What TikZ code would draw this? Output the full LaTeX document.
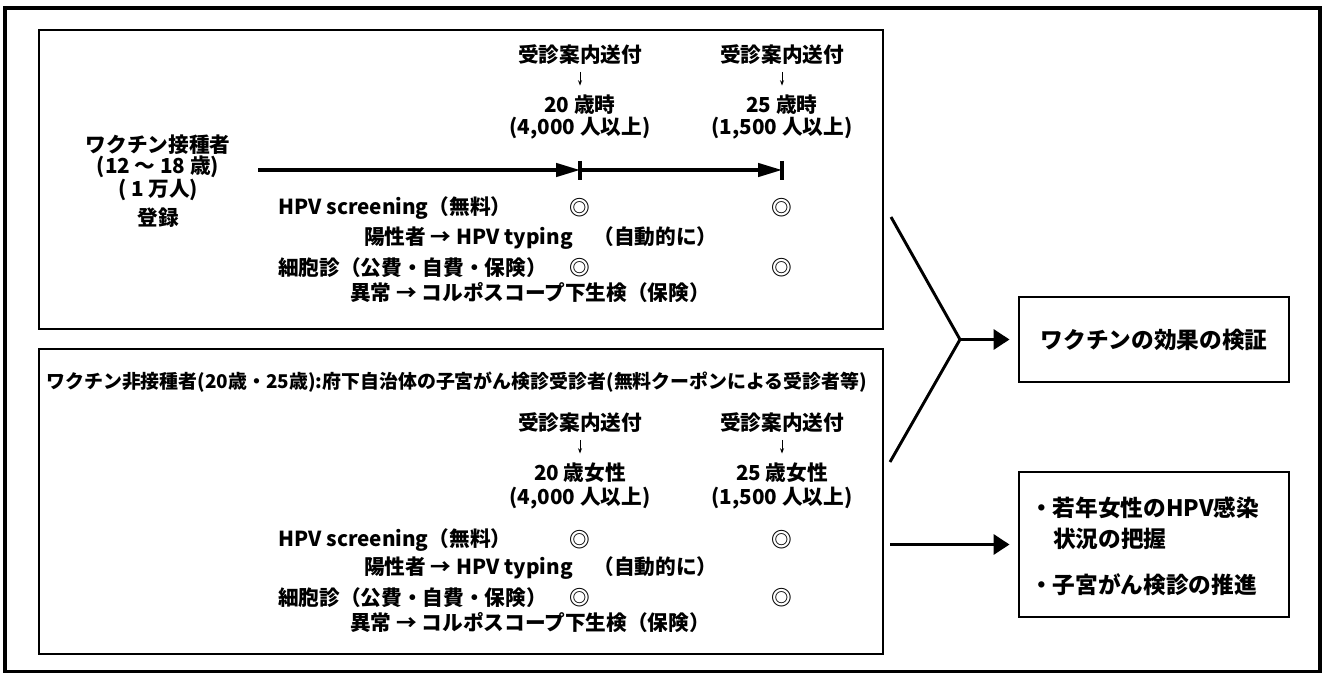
\documentclass[tikz,border=0pt]{standalone}
\usepackage{fontspec}
\newfontfamily\jp{Noto Sans CJK JP}
\usetikzlibrary{arrows.meta}
\begin{document}
\begin{tikzpicture}[x=0.75pt,y=-0.75pt,
  t/.style={inner sep=0pt, font=\jp\bfseries\fontsize{15.5}{18}\selectfont},
  tl/.style={t, anchor=west},
  hdr/.style={inner sep=0pt, anchor=west, font=\jp\bfseries\fontsize{14.2}{16}\selectfont},
  big/.style={inner sep=0pt, font=\jp\bfseries\fontsize{17}{21}\selectfont},
  frame/.style={draw, line width=1pt},
  resbox/.style={draw, line width=2.2pt, inner sep=0pt, minimum width=202.5pt},
  smallarrow/.style={line width=0.7pt, -{Stealth[length=4pt,width=3pt]}, shorten <=5pt, shorten >=7pt},
  timeline/.style={line width=2.6pt, -{Triangle[length=18pt,width=10pt]}},
  tickmark/.style={line width=2.4pt},
  fatarrow/.style={line width=2.6pt, -{Triangle[length=12pt,width=15pt]}, shorten >=6pt},
  bracket/.style={line width=2.2pt},
]
\useasboundingbox (0,0) rectangle (1323,673);
% outer frame
\draw[line width=2.6pt] (5,8) rectangle (1320,672);
% top box
\draw[frame] (39,30) rectangle (883,329);
% bottom box
\draw[frame] (39,349) rectangle (883,654);

% ---------- top box ----------
\node[t] (s1) at (580,55) {受診案内送付};
\node[t] (a20) at (580,105) {20 歳時};
\node[t] (n20) at (580,128) {(4,000 人以上)};
\draw[smallarrow] (s1) -- (a20);
\node[t] (s2) at (782,55) {受診案内送付};
\node[t] (a25) at (782,105) {25 歳時};
\node[t] (n25) at (782,128) {(1,500 人以上)};
\draw[smallarrow] (s2) -- (a25);

\node[t] (vac) at (158,145) {ワクチン接種者};
\node[t] (age) at (158,167) {(12 〜 18 歳)};
\node[t] (man) at (158,190) {( 1 万人)};
\node[t] (reg) at (158,218) {登録};

\coordinate (tl0) at (258,170);
\coordinate (tk1) at (580,170);
\coordinate (tk2) at (782,170);
\draw[timeline] (tl0) -- (tk1);
\draw[timeline] (tk1) -- (tk2);
\draw[tickmark] (580,161) -- (580,180);
\draw[tickmark] (782,161) -- (782,180);

\node[tl] (hpv1) at (278,208) {HPV screening（無料）};
\node[t] (c11) at (580,208) {◎};
\node[t] (c12) at (782,208) {◎};
\node[tl] (typ1) at (364,238) {陽性者 → HPV typing　（自動的に）};
\node[tl] (cyt1) at (278,268) {細胞診（公費・自費・保険）};
\node[t] (c13) at (580,268) {◎};
\node[t] (c14) at (782,268) {◎};
\node[tl] (abn1) at (350,293) {異常 → コルポスコープ下生検（保険）};

% ---------- bottom box ----------
\node[hdr] (hdr) at (46,382) {ワクチン非接種者(20歳・25歳):府下自治体の子宮がん検診受診者(無料クーポンによる受診者等)};
\node[t] (s3) at (580,423) {受診案内送付};
\node[t] (w20) at (580,473) {20 歳女性};
\node[t] (m20) at (580,498) {(4,000 人以上)};
\draw[smallarrow] (s3) -- (w20);
\node[t] (s4) at (782,423) {受診案内送付};
\node[t] (w25) at (782,473) {25 歳女性};
\node[t] (m25) at (782,498) {(1,500 人以上)};
\draw[smallarrow] (s4) -- (w25);

\node[tl] (hpv2) at (278,540) {HPV screening（無料）};
\node[t] (c21) at (580,540) {◎};
\node[t] (c22) at (782,540) {◎};
\node[tl] (typ2) at (364,568) {陽性者 → HPV typing　（自動的に）};
\node[tl] (cyt2) at (278,598) {細胞診（公費・自費・保険）};
\node[t] (c23) at (580,598) {◎};
\node[t] (c24) at (782,598) {◎};
\node[tl] (abn2) at (350,623) {異常 → コルポスコープ下生検（保険）};

% ---------- right side ----------
\node[resbox, big, minimum height=63.75pt] (boxA) at (1154,339.5) {ワクチンの効果の検証};
\node[resbox, minimum height=108.75pt] (boxB) at (1154,544.5) {};
\node[big, anchor=west] (b1) at (1030,508) {・若年女性のHPV感染};
\node[big, anchor=west] (b2) at (1053,539) {状況の把握};
\node[big, anchor=west] (b3) at (1030,585) {・子宮がん検診の推進};

\coordinate (gt) at (891,217);
\coordinate (gv) at (960,339.5);
\coordinate (gb) at (890,462);
\draw[bracket] (gt) -- (gv) -- (gb);
\draw[fatarrow] (gv) -- (boxA.west);
\coordinate (bs) at (890,544.5);
\draw[fatarrow] (bs) -- (boxB.west);
\end{tikzpicture}
\end{document}
